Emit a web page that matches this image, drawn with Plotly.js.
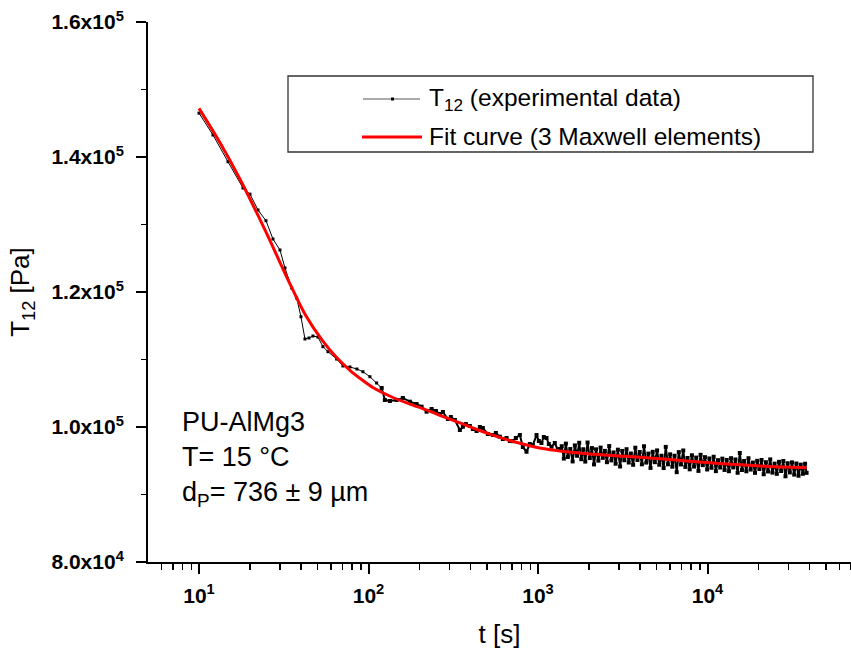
<!DOCTYPE html>
<html>
<head>
<meta charset="utf-8">
<script src="https://cdn.plot.ly/plotly-3.0.1.min.js"></script>
<style>
html,body{margin:0;padding:0;overflow:hidden;background:#fff;}
#chart{width:851px;height:649px;}
</style>
</head>
<body>
<div id="chart"></div>
<script>
// ---- data ----
// experimental data T12 (Pa) vs time t (s): early, sparsely sampled part
const expTimeEarly = [10,12.09,14.82,18.17,19.98,22.28,24.83,27.31,30.03,32.15,35.21,37.68,39.94,42.17,44.53,47.0,50.3,53.84,57.63,64.85,70.66,77.69,85.43,92.69,101.9,111.6,119.5];
const expStressEarly = [146500,143260,139300,135400,134500,132150,130560,127850,126220,123560,120590,119110,116340,113040,113190,113480,113330,111900,111160,110070,109040,108890,108590,108190,107450,106520,105780];
// experimental data: later, densely sampled noisy part
const expTimeLate = [119.5,124.9,133.7,146.4,159.5,175.4,192.1,205.6,220.1,235.6,249.7,263.6,274.6,293.9,306,323.2,345.8,360.3,375.3,396.2,412.7,434,453.8,472.6,505.8,541.4,564,595.6,620.1,652.1,682,710.2,739.8,781.1,813.4,855.3,894.5,931.9,979.9,1011,1048,1082,1122,1158,1201,1256,1309,1344,
  1380,1420,1460,1500,1550,1600,1650,1700,1750,1800,1850,1900,1960,2020,2080,2140,2200,2270,2340,2410,2480,2550,2630,2710,2790,2870,2960,3050,3140,3230,3330,3430,3530,3640,3750,3860,3980,4100,4220,4350,4480,4610,4750,4890,5040,5190,5350,5510,5670,5840,6020,6200,6390,6580,6770,6980,7190,7400,7620,7850,8090,8330,8580,8840,9100,9380,9660,9950,10250,10550,10870,11200,11530,11880,12230,12600,12980,13370,13770,14180,14610,15050,15500,15960,16440,16940,17440,17970,18510,19060,19630,20220,20830,21450,22100,22760,23440,24150,24870,25620,26390,27180,28000,28840,29700,30590,31510,32460,33430,34430,35470,36530,37630,38400];
const expStressLate = [105780,104000,103850,104000,104300,103750,103410,103010,102270,102670,102370,101930,102220,101190,101480,101040,99560,100040,100440,100150,99700,99410,100000,99850,98960,98820,99110,98560,98220,98370,97930,97900,98370,98810,97040,96340,97480,97330,98810,97930,97630,98520,98370,97480,97080,97630,96590,96740,
  97150,95320,97540,95560,96730,94900,97270,95740,97660,95230,96700,94880,97700,95400,96880,94460,96690,95020,96950,95430,96460,94790,97170,95050,96230,94560,96640,94150,96450,95080,96710,94740,96070,94400,96930,95110,96290,94470,97150,94730,96060,93940,96320,94790,96530,94410,95740,93920,97050,94470,95950,94120,95740,93310,96280,94450,96520,94090,95410,93730,95810,94140,95470,93500,95880,94350,95530,93710,95340,93960,95590,93460,95080,94000,95310,93640,95120,93450,95380,94010,95190,93220,96150,93630,94960,93440,95370,93700,94730,93210,94990,93770,95110,93000,94780,93420,95200,93240,94570,93060,94840,93480,94960,92700,94630,93270,94760,92950,94590,92780,94420,93070,94560,93210];
// fit curve (3 Maxwell elements)
const fitTime = [10,13.3,17.45,24.5,33.5,42.2,53.1,64.2,77.7,91.4,106.1,139.3,175.4,221,278.4,345.8,435.8,541.4,681.9,859,1067,1344,2020,3250,5017,7852,12290,21750,38450];
const fitStress = [147200,142100,136700,129200,121800,116700,112900,110400,108400,107000,105850,104370,103400,102500,101500,100600,99630,98800,98000,97330,96800,96440,96000,95670,95330,94930,94550,94190,93960];

const seriesNames = ['T<sub>12</sub> (experimental data)', 'Fit curve (3 Maxwell elements)'];
const xTickVals = [10,100,1000,10000];
const xTickText = ['10<sup>1</sup>','10<sup>2</sup>','10<sup>3</sup>','10<sup>4</sup>'];
const xMinorVals = [6,7,8,9,20,30,40,50,60,70,80,90,200,300,400,500,600,700,800,900,2000,3000,4000,5000,6000,7000,8000,9000,20000,30000,40000,50000,60000,70000];
const yTickVals = [80000,100000,120000,140000,160000];
const yTickText = ['8.0x10<sup>4</sup>','1.0x10<sup>5</sup>','1.2x10<sup>5</sup>','1.4x10<sup>5</sup>','1.6x10<sup>5</sup>'];
const yMinorVals = [90000,110000,130000,150000];
const infoLines = ['PU-AlMg3','T= 15 °C','d<sub>P</sub>= 736 ± 9 µm'];
const xTitle = 't [s]';
const yTitle = 'T<sub>12</sub> [Pa]';

// ---- figure ----
const FONT = "'Liberation Sans', Arial, Helvetica, sans-serif";
const W = 851, H = 649;
const PL = 148, PR = 851, PT = 22, PB = 562;
const xRange = [Math.log10(5), Math.log10(5) + (PR - PL) / 169.5];
const yRange = [80000, 160000];

const traces = [
  {
    x: expTimeEarly, y: expStressEarly,
    type: 'scatter', mode: 'lines+markers',
    name: seriesNames[0],
    line: {color: '#000', width: 1},
    marker: {color: '#000', size: 3, symbol: 'square'}
  },
  {
    x: expTimeLate, y: expStressLate,
    type: 'scatter', mode: 'lines+markers',
    name: seriesNames[0], showlegend: false,
    line: {color: '#000', width: 2},
    marker: {color: '#000', size: 4, symbol: 'square'}
  },
  {
    x: fitTime, y: fitStress,
    type: 'scatter', mode: 'lines',
    name: seriesNames[1],
    line: {color: '#ff0000', width: 3, shape: 'spline', smoothing: 0.8}
  }
];

// legend drawn as a box, placed by plot-area pixel positions
const px = v => (v - PL) / (PR - PL);
const py = v => (PB - v) / (PB - PT);

const shapes = [
  {type:'rect', xref:'paper', yref:'paper', x0:px(288), x1:px(813), y0:py(152), y1:py(76), line:{color:'#333', width:1.3}, fillcolor:'rgba(0,0,0,0)'},
  {type:'line', xref:'paper', yref:'paper', x0:px(363), x1:px(420), y0:py(99), y1:py(99), line:{color:'#555', width:1}},
  {type:'rect', xref:'paper', yref:'paper', x0:px(391), x1:px(394), y0:py(100.5), y1:py(97.5), line:{width:0}, fillcolor:'#000'},
  {type:'line', xref:'paper', yref:'paper', x0:px(362), x1:px(422), y0:py(137), y1:py(137), line:{color:'#ff0000', width:3}}
];

const annotations = [
  {xref:'paper', yref:'paper', x:px(427), y:py(99), xanchor:'left', yanchor:'middle', showarrow:false, text:seriesNames[0], font:{size:24.5, color:'#000', family:FONT}},
  {xref:'paper', yref:'paper', x:px(427), y:py(137), xanchor:'left', yanchor:'middle', showarrow:false, text:seriesNames[1], font:{size:24.5, color:'#000', family:FONT}},
  {xref:'paper', yref:'paper', x:px(180), y:py(405), xanchor:'left', yanchor:'top', align:'left', showarrow:false, text:infoLines.join('<br>'), font:{size:27, color:'#000', family:FONT}}
];

const axisCommon = {showgrid:false, zeroline:false, showline:true, linecolor:'#000', linewidth:2, tickcolor:'#000'};

const layout = {
  width: W, height: H,
  margin: {l: PL, r: W - PR, t: PT, b: H - PB},
  paper_bgcolor: '#fff', plot_bgcolor: '#fff',
  showlegend: false,
  font: {family: FONT, color: '#000'},
  xaxis: Object.assign({}, axisCommon, {
    type: 'log', range: xRange, tickmode: 'array', tickvals: xTickVals, ticktext: xTickText,
    ticks: 'outside', ticklen: 10, tickwidth: 2, ticklabelstandoff: 4,
    tickfont: {size: 21, weight: 'bold', family: FONT},
    minor: {tickmode: 'array', tickvals: xMinorVals, ticks: 'outside', ticklen: 6, tickwidth: 1.5, tickcolor: '#000', showgrid: false},
    title: {text: xTitle, font: {size: 26, family: FONT}, standoff: 20}
  }),
  xaxis2: Object.assign({}, axisCommon, {
    type: 'log', range: xRange, overlaying: 'x', side: 'top', anchor: 'y',
    tickmode: 'array', tickvals: xTickVals, showticklabels: false,
    ticks: 'inside', ticklen: 11, tickwidth: 2,
    minor: {tickmode: 'array', tickvals: xMinorVals, ticks: 'inside', ticklen: 7, tickwidth: 1.5, tickcolor: '#000', showgrid: false}
  }),
  yaxis: Object.assign({}, axisCommon, {
    range: yRange, tickmode: 'array', tickvals: yTickVals, ticktext: yTickText,
    ticks: 'outside', ticklen: 10, tickwidth: 2, ticklabelstandoff: 8,
    tickfont: {size: 21, weight: 'bold', family: FONT},
    minor: {tickmode: 'array', tickvals: yMinorVals, ticks: 'outside', ticklen: 5, tickwidth: 1.5, tickcolor: '#000', showgrid: false},
    title: {text: yTitle, font: {size: 26, family: FONT}, standoff: 14}
  }),
  yaxis2: Object.assign({}, axisCommon, {
    range: yRange, overlaying: 'y', side: 'right', anchor: 'x', showline: false,
    tickmode: 'array', tickvals: [100000,120000,140000], showticklabels: false,
    ticks: 'inside', ticklen: 3, tickwidth: 2
  }),
  shapes: shapes,
  annotations: annotations
};

Plotly.newPlot('chart', traces, layout, {staticPlot: true, displayModeBar: false});
</script>
</body>
</html>
